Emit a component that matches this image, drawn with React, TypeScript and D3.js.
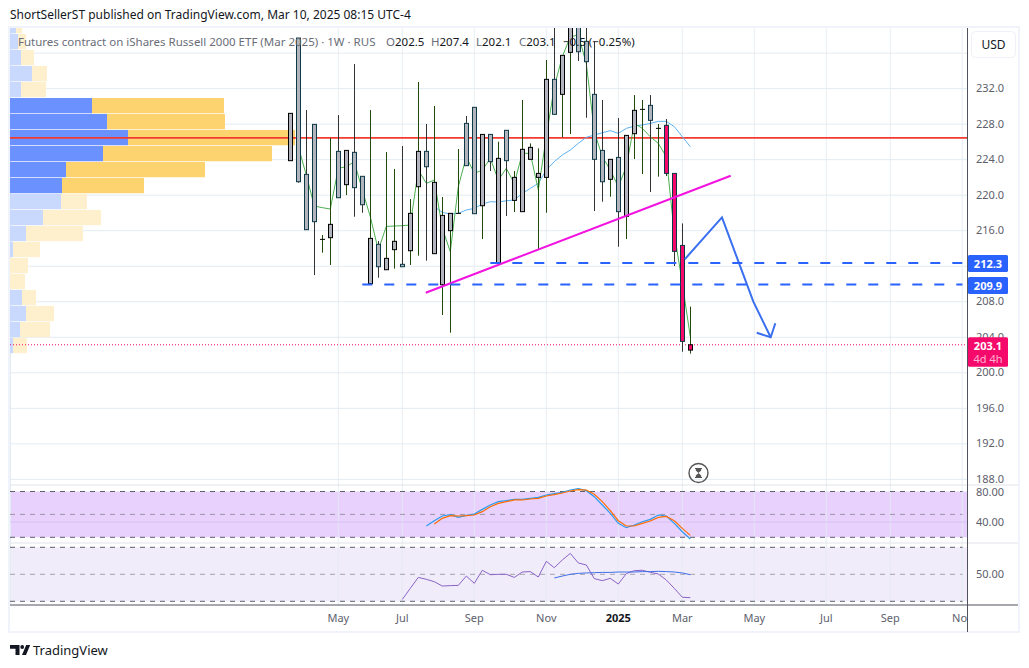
import React from "react";
import * as d3 from "d3";

const FONT = "'Noto Sans', 'Open Sans', sans-serif";

// ---- weekly candles (index = bar number) ----
const bodyTop = [229.16,237.64,222.29,227.92,214.97,216.66,224.88,224.99,224.77,222.07,215.08,214.41,212.83,214.75,212.16,217.9,224.88,224.88,221.39,217.67,217.9,217.9,228.03,229.84,226.79,226.79,224.09,227.25,221.95,225.11,225.33,222.4,232.99,232.99,235.69,240.8,240.8,237.27,231.3,224.99,223.98,224.2,226.68,229.5,229.61,230.06,227.47,227.81,222.4,214.29,203.1];
const bodyBot = [223.83,221.46,216.06,216.96,214.97,215.16,219.66,221.13,220.79,218.87,209.98,211.89,211.55,213.81,211.89,213.69,220.9,223.15,213.36,209.86,215.95,217.9,223.27,217.86,218.76,223.72,212.34,223.83,219.36,218.09,223.98,221.95,221.95,229.05,231.3,236.03,236.1,234.98,223.98,221.46,221.73,218.09,217.56,226.87,229.61,228.37,227.47,222.4,213.62,203.48,202.5];
const highs = [229.16,237.64,229.53,227.92,215.46,226.38,228.97,224.99,234.71,222.07,229.53,214.78,224.81,222.89,225.48,219.51,232.69,227.96,229.99,219.74,217.9,225.14,228.86,229.84,226.79,226.79,225.97,227.25,222.67,230.66,225.78,225.22,235.17,240.8,235.69,241,241,241,237.27,230.66,223.98,228.63,226.68,231.22,230.66,231.22,227.96,228.52,222.4,216.77,207.4];
const lows = [223.83,221.35,216.06,210.95,213.47,212.08,219.66,219.96,217.52,217.97,209.98,210.65,211.55,211.67,211.89,212.08,213.13,212.57,213.36,206.45,204.46,217.9,223.27,217.86,215.01,222.67,212.34,217.6,218.05,218.09,223.98,213.84,217.97,229.05,226.46,226.83,235.05,228.67,218.16,219.21,219.77,214.14,215.01,224.02,222.33,220.3,222.03,222.1,211.97,202.32,202.1];
// 0 = black border / green wick, 1 = teal border / dark wick
const barKind = [0,1,1,1,0,0,1,0,1,1,0,1,0,0,1,0,0,1,0,0,0,0,1,1,0,1,0,1,0,0,0,0,0,1,0,0,1,1,1,1,0,1,0,0,0,1,0,1,1,1,0];
const pinkFrom = 47;

const greenLine = [225.41,222.21,218.72,218.54,218.39,222.97,223.15,223.72,220.53,217.52,213.77,216.43,216.47,216.51,216.59,222.78,221.28,221.65,216.21,213.58,220.9,224.28,222.4,222.78,224.09,221.65,222.97,221.28,224.66,224.66,220.53,226.53,232.16,235.54,237.79,237.98,234.79,227.12,224.28,222.78,220.9,223.15,228.03,227.47,226.53,225.78,224.28,215.65,210.02,204.01];
const greenStart = 1;
const maLine = [218.65,218.01,217.82,217.9,218.27,218.46,218.95,219.21,219.17,219.32,219.4,220.15,220.71,221.28,222.78,223.72,224.47,225.03,225.78,226.46,226.72,226.98,227.21,226.91,227.47,227.73,227.85,228.03,228.26,228.26,227.66,226.53,225.41];
const maStart = 18;

// ---- volume profile ----
const rowTops = [239.9,238.1,236.3,234.5,232.7,230.89,229.09,227.29,225.49,223.69,221.89,220.09,218.29,216.49,214.69,212.88,211.08,209.28,207.48,205.68,203.88];
const rowBuy = [6,8,11,22,11,82,97,118,93,56,52,51,33,16,3,0,0,12,16,10,3];
const rowTotal = [12,16,24,37,36,214,215,285,262,195,134,77,91,73,30,18,15,26,44,40,17];
const valueArea = [0,0,0,0,0,1,1,1,1,1,1,0,0,0,0,0,0,0,0,0,0];

// ---- stochastic RSI ----
const stochK = [34.75,41.75,47.9,49.6,46.1,48.7,50.5,56.6,62.3,66.7,68,69.7,69.7,71,72.3,75.4,77.2,78.9,82,83.7,81.1,73.2,62.3,51.4,38.3,32.6,36.1,40.4,43.5,49.2,47.9,38.3,27.3,17.7];
const stochKStart = 17;
const stochD = [37.4,44.8,48.3,47.9,48.3,49.2,53.6,60.1,64.5,66.7,68.9,68.9,70.2,71,74.1,75.8,78,80.7,82.4,82,76.3,66.7,54.9,41.7,34.8,34.8,38.3,41.3,46.1,47.4,41.7,31.7,22.5];
const stochDStart = 18;

// ---- RSI ----
const rsi = [31.4,39.6,47.7,46.3,44.5,41.3,41.6,41.8,48.7,43.3,53,49.7,50,50,47.7,51.7,52,48,59.6,54.9,60.6,65.5,58.4,56.9,46.8,45.3,47,42.8,50.5,52.7,53,51.5,50.2,45.8,39.6,33,32.7];
const rsiStart = 14;
const rsiMa = [47.3,48.7,50,50.7,51,51.2,51.4,51.4,51.7,51.7,51.7,52,52,52.2,52,51.7,51,49.7];
const rsiMaStart = 33;

// ---- axes ----
const priceTicks = [236,232,228,224,220,216,212,208,204,200,196,192,188];
const timeTickBars = [6,14,23,32,41,49,58,67,75,84];
const timeTickLabels = ["May","Jul","Sep","Nov","2025","Mar","May","Jul","Sep","Nov"];

// ---- drawings (bar, price) ----
const redLevel = 226.4;
const levelA = { from: 9, price: 209.9 };
const levelB = { from: 25, price: 212.3 };
const lastPrice = 203.1;
const trendLine: [number, number][] = [[16.93,208.96],[55.05,222.14]];
const forecastLine: [number, number][] = [[49.3,212.72],[53.96,217.45],[57.88,207.95],[60.05,203.94]];
const arrowHead: [number, number][] = [[58.3,204.46],[60.05,203.94],[60.63,205.52]];

const x = d3.scaleLinear().domain([0, 50]).range([290.3, 690.3]);
const y = d3.scaleLinear().domain([200, 232]).range([372.3, 88.14]);
const yStoch = d3.scaleLinear().domain([20, 80]).range([537.3, 491.5]);
const yRsi = d3.scaleLinear().domain([30, 70]).range([601.3, 547.3]);
const xVol = d3.scaleLinear().domain([0, 285]).range([10, 295]);

const AXIS_X = 967.5;
const GRID = "#e3ecf2";
const PINK = "#f50a6c";
const BLUE = "#2962ff";

const seriesPath = (vals: number[], start: number, sc: d3.ScaleLinear<number, number>) =>
  d3.line<number>().x((_, i) => x(i + start)).y((d) => sc(d))(vals) || "";
const pairPath = (pts: [number, number][]) =>
  d3.line<[number, number]>().x((d) => x(d[0])).y((d) => y(d[1]))(pts) || "";

function Candle({ i }: { i: number }) {
  const cx = Math.round(x(i)) + 0.5;
  const top = y(bodyTop[i]);
  const bot = y(bodyBot[i]);
  const doji = bot - top < 1;
  const border = barKind[i] ? "#0d3a46" : "#000000";
  const wick = barKind[i] ? "#333333" : "#1f4a0a";
  return (
    <g>
      <line x1={cx} x2={cx} y1={y(highs[i])} y2={y(lows[i])} stroke={wick} strokeWidth={1} />
      {doji ? (
        <line x1={cx - 2.5} x2={cx + 2.5} y1={top} y2={top} stroke="#000" strokeWidth={1} />
      ) : (
        <rect x={cx - 2} y={top} width={4} height={bot - top} fill={i >= pinkFrom ? PINK : "#b2b5be"} stroke={border} strokeWidth={1} />
      )}
    </g>
  );
}

export default function App() {
  const bars = d3.range(bodyTop.length);
  const rowH = 15.3;
  return (
    <svg width={1029} height={668} style={{ position: "absolute", left: 0, top: 0, background: "#fff" }} fontFamily={FONT}>
      <defs>
        <clipPath id="pricePane"><rect x={10} y={28} width={AXIS_X - 10} height={457} /></clipPath>
        <clipPath id="timeAxis"><rect x={10} y={606} width={AXIS_X - 10} height={26} /></clipPath>
      </defs>
      <text x={10} y={19} fontSize={12} fill="#131722">ShortSellerST published on TradingView.com, Mar 10, 2025 08:15 UTC-4</text>

      {/* frame */}
      <rect x={9} y={27} width={1010} height={605} fill="#fff" stroke="#f0f3fa" strokeWidth={2} />

      {/* panes */}
      <rect x={10} y={491.5} width={AXIS_X - 10} height={45.8} fill="#e8d1fd" />
      <rect x={10} y={547.3} width={AXIS_X - 10} height={54} fill="#f0ecf9" />

      {/* grid */}
      {priceTicks.map((p) => (
        <line key={p} x1={10} x2={AXIS_X} y1={y(p) + 0.5} y2={y(p) + 0.5} stroke={GRID} />
      ))}
      {timeTickBars.map((b) => (
        <line key={b} x1={x(b)} x2={x(b)} y1={28} y2={605} stroke={GRID} strokeOpacity={0.85} />
      ))}
      <line x1={10.5} x2={10.5} y1={28} y2={605} stroke={GRID} />
      <line x1={10} x2={AXIS_X} y1={yStoch(40)} y2={yStoch(40)} stroke="#d8c3f2" />
      <line x1={10} x2={1018} y1={485} y2={485} stroke="#e0e3eb" />
      <line x1={10} x2={1018} y1={543} y2={543} stroke="#e0e3eb" />

      {/* volume profile */}
      <g clipPath="url(#pricePane)">
        {rowTops.map((p, i) => (
          <g key={p}>
            <rect x={xVol(0)} y={y(p)} width={xVol(rowBuy[i]) - xVol(0)} height={rowH} fill={valueArea[i] ? "#6b91ff" : "#c9d8fd"} />
            <rect x={xVol(rowBuy[i])} y={y(p)} width={xVol(rowTotal[i]) - xVol(rowBuy[i])} height={rowH} fill={valueArea[i] ? "#fdd36f" : "#feefcd"} />
          </g>
        ))}
      </g>

      <line x1={10} x2={AXIS_X} y1={y(redLevel)} y2={y(redLevel)} stroke="#f23a2e" strokeWidth={1.6} />
      <line x1={10} x2={AXIS_X} y1={y(lastPrice)} y2={y(lastPrice)} stroke={PINK} strokeDasharray="1 2" />

      <g clipPath="url(#pricePane)">
        <path d={seriesPath(maLine, maStart, y)} fill="none" stroke="#5db2f2" strokeWidth={1} />
        <path d={seriesPath(greenLine, greenStart, y)} fill="none" stroke="#4caf50" strokeWidth={1} />
        {bars.map((i) => <Candle key={i} i={i} />)}
        <path d={pairPath(trendLine)} fill="none" stroke="#f213e0" strokeWidth={2} />
        <path d={pairPath(forecastLine)} fill="none" stroke="#3a6ff0" strokeWidth={2} />
        <path d={pairPath(arrowHead)} fill="none" stroke="#3a6ff0" strokeWidth={2} />
        {[levelA, levelB].map((l) => (
          <line key={l.price} x1={x(l.from)} x2={AXIS_X - 5} y1={y(l.price)} y2={y(l.price)} stroke={BLUE} strokeWidth={2} strokeDasharray="10 12" />
        ))}
      </g>

      {/* hourglass */}
      <g stroke="#555" fill="none">
        <circle cx={698.5} cy={473} r={9.5} strokeWidth={1.4} />
        <path d="M695 468.5h7M695 477.5h7" strokeWidth={1.2} />
        <path d="M695.8 469h5.4v1.5l-2.7 2.5-2.7-2.5zM695.8 477v-1.5l2.7-2.5 2.7 2.5V477z" fill="#555" stroke="none" />
      </g>

      {/* stochastic */}
      {[80, 20].map((v) => (
        <line key={v} x1={10} x2={AXIS_X - 5} y1={yStoch(v)} y2={yStoch(v)} stroke="#5d606b" strokeDasharray="5 5" />
      ))}
      <line x1={10} x2={AXIS_X - 5} y1={yStoch(50)} y2={yStoch(50)} stroke="#9b95a8" strokeDasharray="5 5" />
      <path d={seriesPath(stochK, stochKStart, yStoch)} fill="none" stroke="#2a9cf0" strokeWidth={1.2} />
      <path d={seriesPath(stochD, stochDStart, yStoch)} fill="none" stroke="#ff6d00" strokeWidth={1.2} />

      {/* RSI */}
      {[70, 30].map((v) => (
        <line key={v} x1={10} x2={AXIS_X - 5} y1={yRsi(v)} y2={yRsi(v)} stroke="#5d606b" strokeDasharray="5 5" />
      ))}
      <line x1={10} x2={AXIS_X - 5} y1={yRsi(50)} y2={yRsi(50)} stroke="#a5a3ad" strokeDasharray="5 5" />
      <path d={seriesPath(rsi, rsiStart, yRsi)} fill="none" stroke="#8a63c9" strokeWidth={1} />
      <path d={seriesPath(rsiMa, rsiMaStart, yRsi)} fill="none" stroke="#3f6fe8" strokeWidth={1} />

      {/* axes */}
      <line x1={10} x2={1018} y1={605} y2={605} stroke="#50535e" />
      <line x1={AXIS_X} x2={AXIS_X} y1={28} y2={632} stroke="#50535e" />

      {/* price labels */}
      {priceTicks.slice(1).map((p) => (
        <text key={p} x={976} y={y(p) + 4} fontSize={11} fill="#5d606b">{p.toFixed(1)}</text>
      ))}
      <text x={976} y={yStoch(80) + 4} fontSize={11} fill="#5d606b">80.00</text>
      <text x={976} y={yStoch(40) + 4} fontSize={11} fill="#5d606b">40.00</text>
      <text x={976} y={yRsi(50) + 4} fontSize={11} fill="#5d606b">50.00</text>

      <rect x={971.5} y={31.5} width={44} height={26} rx={4} fill="#fff" stroke="#eff1f6" />
      <text x={993.5} y={49} fontSize={12} fill="#131722" textAnchor="middle">USD</text>

      <rect x={968} y={255} width={40} height={17} rx={1.5} fill={BLUE} />
      <text x={988} y={267.5} fontSize={11} fontWeight={700} fill="#fff" textAnchor="middle">212.3</text>
      <rect x={968} y={277} width={40} height={17} rx={1.5} fill={BLUE} />
      <text x={988} y={289.5} fontSize={11} fontWeight={700} fill="#fff" textAnchor="middle">209.9</text>
      <rect x={968} y={337.3} width={40} height={29.5} rx={1.5} fill={PINK} />
      <text x={988} y={349.5} fontSize={11} fontWeight={700} fill="#fff" textAnchor="middle">203.1</text>
      <text x={988} y={363} fontSize={11} fill="#ffb3d2" textAnchor="middle">4d 4h</text>

      {/* time labels */}
      <g clipPath="url(#timeAxis)">
        {timeTickBars.map((b, i) => (
          <text key={b} x={x(b)} y={622} fontSize={11} fill={timeTickLabels[i] === "2025" ? "#131722" : "#5d606b"} fontWeight={timeTickLabels[i] === "2025" ? 700 : 400} textAnchor="middle">{timeTickLabels[i]}</text>
        ))}
      </g>

      {/* legend */}
      <g fontSize={11.5}>
        <text x={18} y={46} fill="#6a6d78">Futures contract on iShares Russell 2000 ETF (Mar 2025) · 1W · RUS</text>
        <text x={386} y={46} fill="#6a6d78">O<tspan fill="#131722">202.5</tspan></text>
        <text x={431} y={46} fill="#6a6d78">H<tspan fill="#131722">207.4</tspan></text>
        <text x={476} y={46} fill="#6a6d78">L<tspan fill="#131722">202.1</tspan></text>
        <text x={519} y={46} fill="#6a6d78">C<tspan fill="#131722">203.1</tspan></text>
        <text x={563} y={46} fill="#131722">−0.5 (−0.25%)</text>
      </g>

      {/* logo */}
      <g fill="#131722">
        <path d="M10 645h9.5v10h-4v-6.2H10z" />
        <circle cx={22.2} cy={647} r={1.9} />
        <path d="M26.2 645h4l-4.2 10h-4z" />
      </g>
      <text x={33} y={655} fontSize={13} fill="#131722">TradingView</text>
    </svg>
  );
}
